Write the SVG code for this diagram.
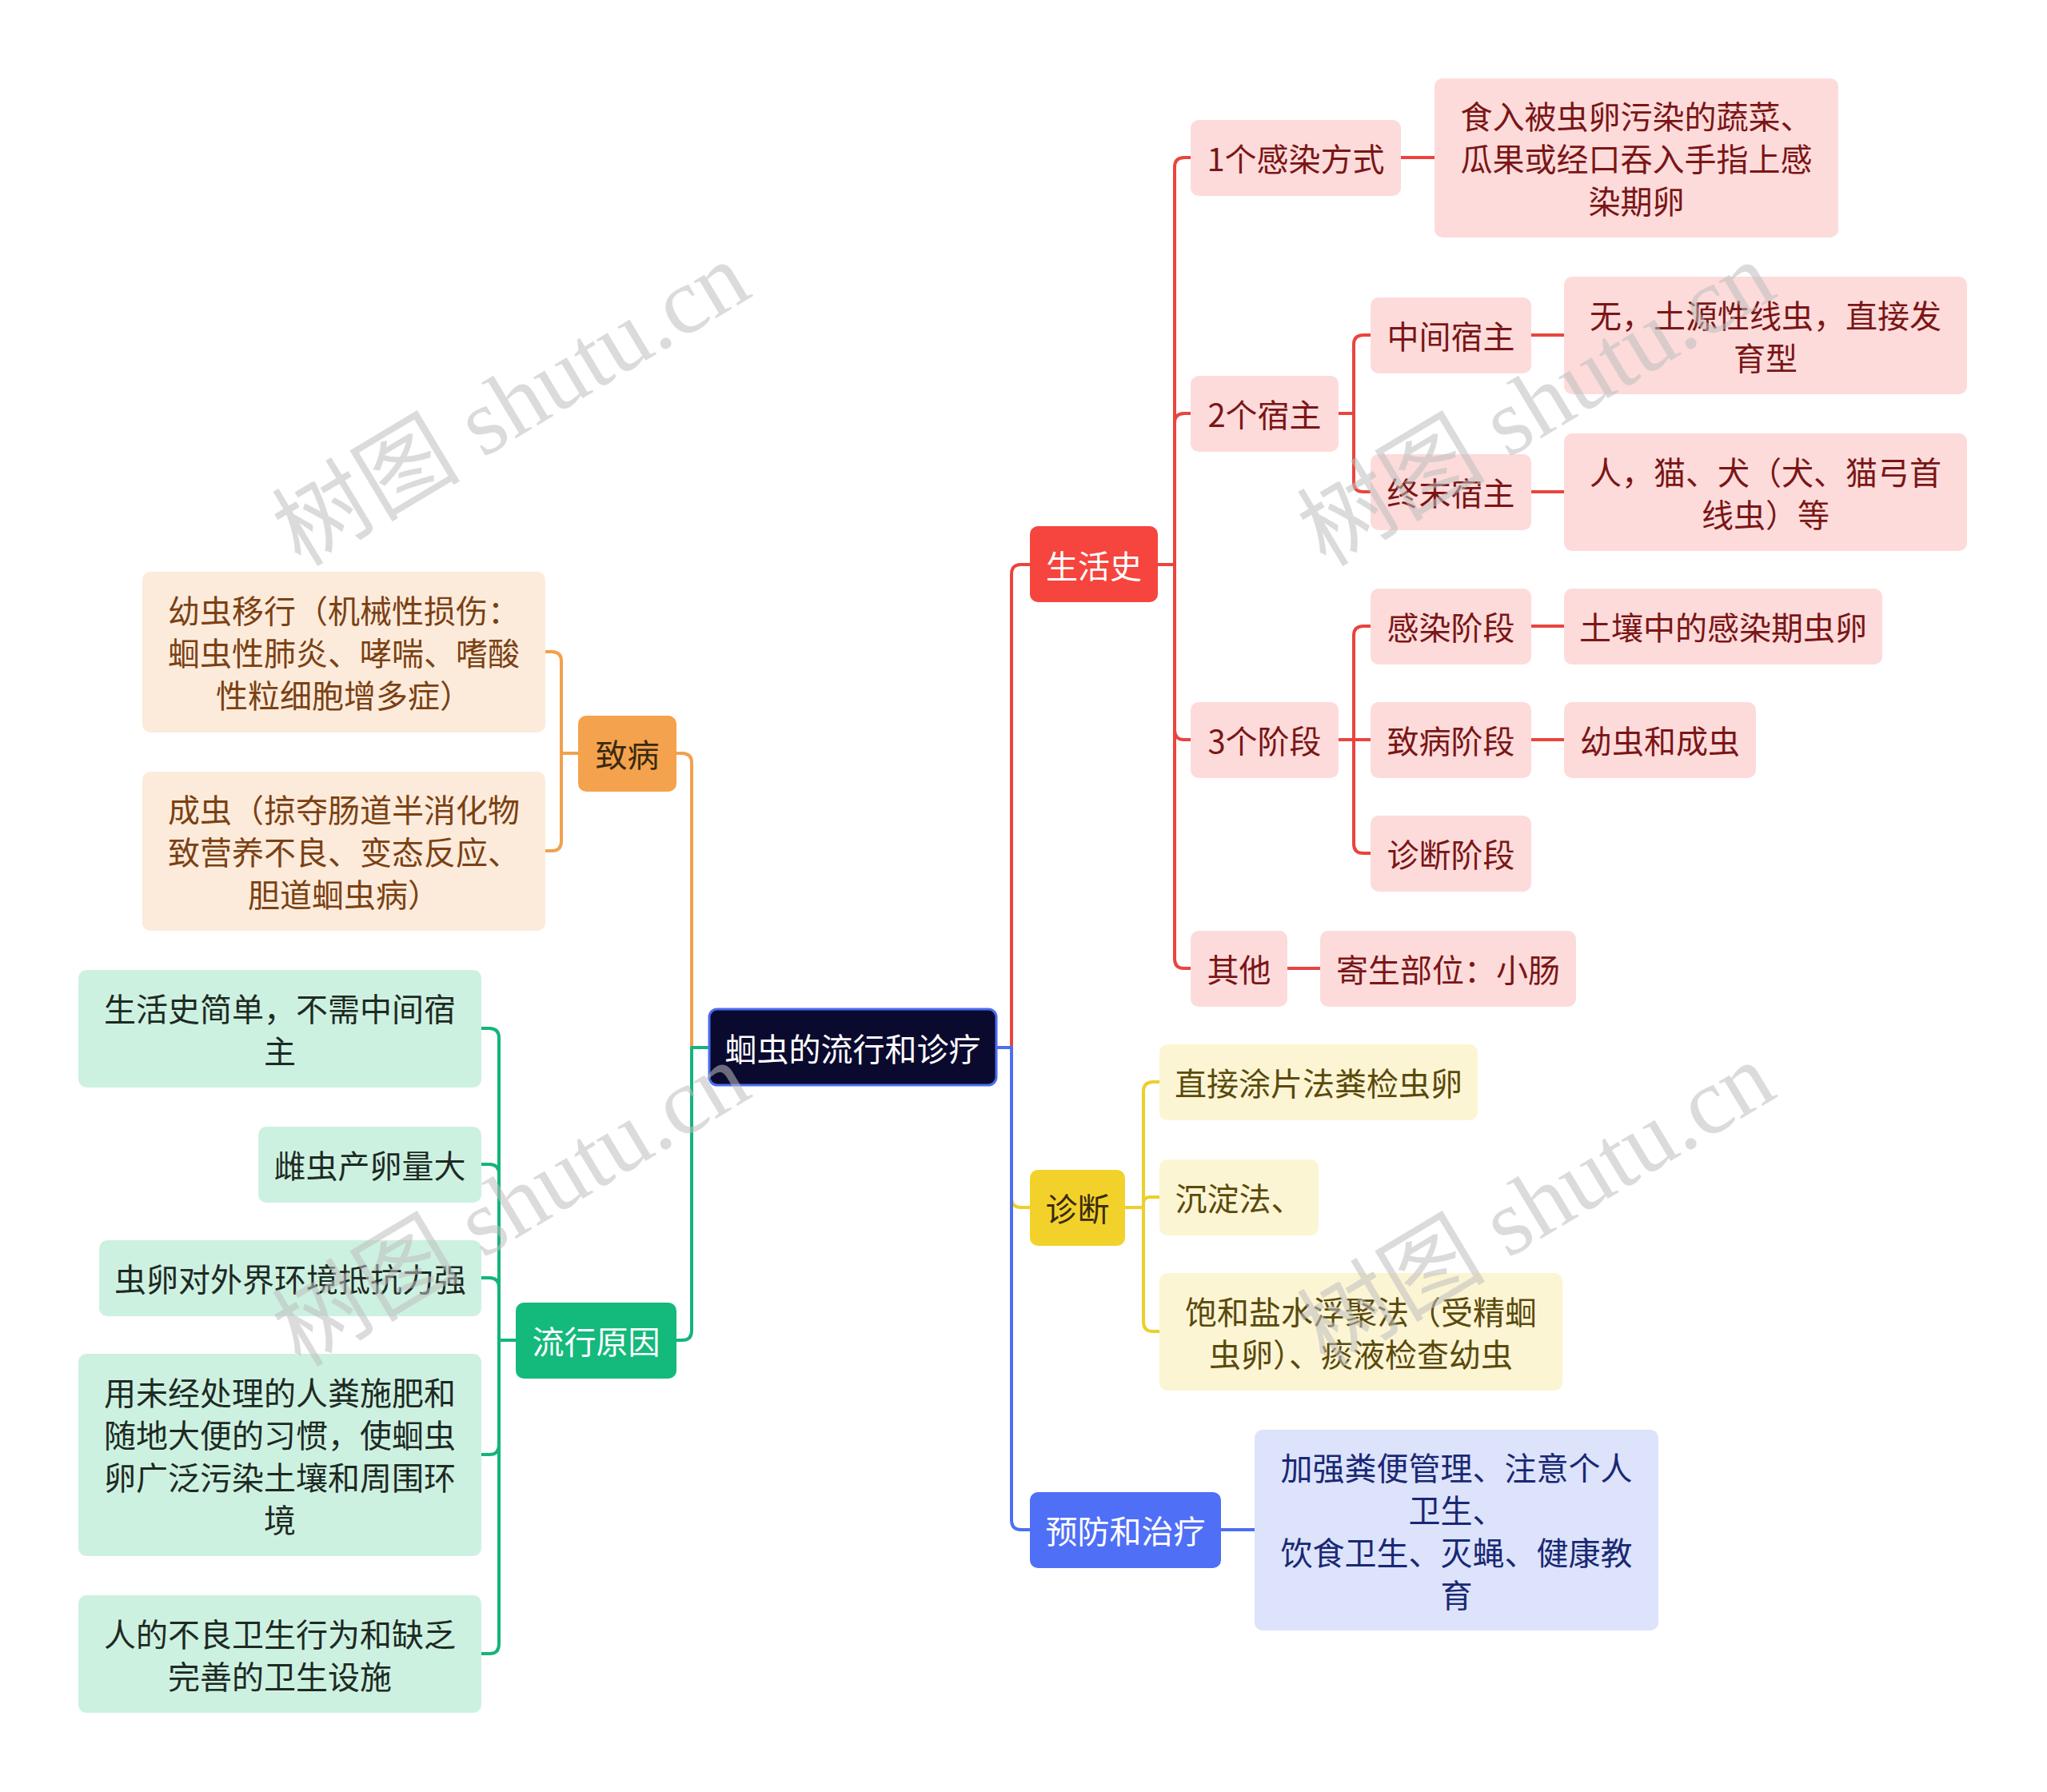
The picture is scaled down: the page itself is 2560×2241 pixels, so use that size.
<svg xmlns="http://www.w3.org/2000/svg" width="2560" height="2241" viewBox="0 0 2560 2241">
<style>
text{font-family:"Noto Sans CJK SC","Noto Sans",sans-serif;font-size:40px;text-anchor:middle;dominant-baseline:central}
.c{fill:none;stroke-width:4;stroke-linecap:round;stroke-linejoin:round}
.red{stroke:#e9453e}.ora{stroke:#f1a14e}.grn{stroke:#15b47a}.yel{stroke:#eccf2c}.blu{stroke:#4e6ef2}
.nr{fill:#f5453e}.no{fill:#f4a24d}.ng{fill:#14b97c}.ny{fill:#f2d22a}.nb{fill:#4f6ff6}
.lr{fill:#fddbdb}.lo{fill:#fcebdb}.lg{fill:#cdf1e1}.ly{fill:#fcf5d4}.lb{fill:#dce3fb}
.tw{fill:#ffffff}.tr{fill:#7a1616}.to{fill:#7b4113}.tg{fill:#1e2a24}.ty{fill:#5a4a0c}.tb{fill:#1a2873}.td{fill:#3a2a10}
.wm{font-family:"Liberation Serif","Noto Sans CJK SC",serif;font-size:118px;fill:#bdbdbd;fill-opacity:0.55;text-anchor:start;dominant-baseline:alphabetic}
</style>
<rect width="2560" height="2241" fill="#ffffff"/>
<g id="connectors">
<path class="c yel" d="M1246 1310 H1265 V1498 Q1265 1510 1277 1510 H1288"/>
<path class="c red" d="M1246 1310 H1265 V718 Q1265 706 1277 706 H1288"/>
<path class="c blu" d="M1246 1310 H1265 V1901 Q1265 1913 1277 1913 H1288"/>
<path class="c ora" d="M887 1310 H865 V954 Q865 942 853 942 H846"/>
<path class="c grn" d="M887 1310 H865 V1664 Q865 1676 853 1676 H846"/>
<path class="c red" d="M1448 706 H1469 V209 Q1469 197 1481 197 H1489"/>
<path class="c red" d="M1448 706 H1469 V529 Q1469 517 1481 517 H1489"/>
<path class="c red" d="M1448 706 H1469 V913 Q1469 925 1481 925 H1489"/>
<path class="c red" d="M1448 706 H1469 V1199 Q1469 1211 1481 1211 H1489"/>
<path class="c red" d="M1674 517 H1693 V431 Q1693 419 1705 419 H1714"/>
<path class="c red" d="M1674 517 H1693 V603 Q1693 615 1705 615 H1714"/>
<path class="c red" d="M1674 925 H1693 V795 Q1693 783 1705 783 H1714"/>
<path class="c red" d="M1674 925 H1714"/>
<path class="c red" d="M1674 925 H1693 V1055 Q1693 1067 1705 1067 H1714"/>
<path class="c red" d="M1752 197 H1794"/>
<path class="c red" d="M1915 419 H1956"/>
<path class="c red" d="M1915 615 H1956"/>
<path class="c red" d="M1915 783 H1956"/>
<path class="c red" d="M1915 925 H1956"/>
<path class="c red" d="M1610 1211 H1651"/>
<path class="c yel" d="M1407 1510 H1430 V1365 Q1430 1353 1442 1353 H1450"/>
<path class="c yel" d="M1407 1510 H1430 V1505 Q1430 1497 1438 1497 H1450"/>
<path class="c yel" d="M1407 1510 H1430 V1653 Q1430 1665 1442 1665 H1450"/>
<path class="c blu" d="M1527 1913 H1569"/>
<path class="c ora" d="M723 942 H702 V827 Q702 815 690 815 H682"/>
<path class="c ora" d="M723 942 H702 V1052 Q702 1064 690 1064 H682"/>
<path class="c grn" d="M645 1676 H624 V1298 Q624 1286 612 1286 H602"/>
<path class="c grn" d="M645 1676 H624 V1468 Q624 1456 612 1456 H602"/>
<path class="c grn" d="M645 1676 H624 V1610 Q624 1598 612 1598 H602"/>
<path class="c grn" d="M645 1676 H624 V1807 Q624 1819 612 1819 H602"/>
<path class="c grn" d="M645 1676 H624 V2056 Q624 2068 612 2068 H602"/>
</g>
<g id="root"><rect x="887" y="1262" width="359" height="95" rx="10" fill="#0a0a2f" stroke="#4a6cf0" stroke-width="3"/><text class="tw" x="1066.5" y="1310">蛔虫的流行和诊疗</text></g>
<g id="n-shenghuoshi"><rect class="nr" x="1288" y="658" width="160" height="95" rx="10"/><text class="tw" x="1368" y="706">生活史</text></g>
<g id="n-zhibing"><rect class="no" x="723" y="895" width="123" height="95" rx="10"/><text class="td" x="784.5" y="942">致病</text></g>
<g id="n-liuxing"><rect class="ng" x="645" y="1629" width="201" height="95" rx="10"/><text class="tw" x="745.5" y="1676">流行原因</text></g>
<g id="n-zhenduan"><rect class="ny" x="1288" y="1463" width="119" height="95" rx="10"/><text class="td" x="1347.5" y="1510">诊断</text></g>
<g id="n-yufang"><rect class="nb" x="1288" y="1866" width="239" height="95" rx="10"/><text class="tw" x="1407.5" y="1913">预防和治疗</text></g>
<g id="n-ganran"><rect class="lr" x="1489" y="150" width="263" height="95" rx="10"/><text class="tr" x="1620.5" y="197">1个感染方式</text></g>
<g id="n-ganran-d"><rect class="lr" x="1794" y="98" width="505" height="199" rx="10"/><text class="tr" x="2046.5" y="144">食入被虫卵污染的蔬菜、</text><text class="tr" x="2046.5" y="197">瓜果或经口吞入手指上感</text><text class="tr" x="2046.5" y="250">染期卵</text></g>
<g id="n-suzhu"><rect class="lr" x="1489" y="470" width="185" height="95" rx="10"/><text class="tr" x="1581.5" y="517">2个宿主</text></g>
<g id="n-zhongjian"><rect class="lr" x="1714" y="372" width="201" height="95" rx="10"/><text class="tr" x="1814.5" y="419">中间宿主</text></g>
<g id="n-zhongjian-d"><rect class="lr" x="1956" y="346" width="504" height="147" rx="10"/><text class="tr" x="2208" y="393">无，土源性线虫，直接发</text><text class="tr" x="2208" y="446">育型</text></g>
<g id="n-zhongmo"><rect class="lr" x="1714" y="568" width="201" height="95" rx="10"/><text class="tr" x="1814.5" y="615">终末宿主</text></g>
<g id="n-zhongmo-d"><rect class="lr" x="1956" y="542" width="504" height="147" rx="10"/><text class="tr" x="2208" y="589">人，猫、犬（犬、猫弓首</text><text class="tr" x="2208" y="642">线虫）等</text></g>
<g id="n-jieduan"><rect class="lr" x="1489" y="878" width="185" height="95" rx="10"/><text class="tr" x="1581.5" y="925">3个阶段</text></g>
<g id="n-gr-jd"><rect class="lr" x="1714" y="736" width="201" height="95" rx="10"/><text class="tr" x="1814.5" y="783">感染阶段</text></g>
<g id="n-gr-jd-d"><rect class="lr" x="1956" y="736" width="398" height="95" rx="10"/><text class="tr" x="2155" y="783">土壤中的感染期虫卵</text></g>
<g id="n-zb-jd"><rect class="lr" x="1714" y="878" width="201" height="95" rx="10"/><text class="tr" x="1814.5" y="925">致病阶段</text></g>
<g id="n-zb-jd-d"><rect class="lr" x="1956" y="878" width="240" height="95" rx="10"/><text class="tr" x="2076" y="925">幼虫和成虫</text></g>
<g id="n-zd-jd"><rect class="lr" x="1714" y="1020" width="201" height="95" rx="10"/><text class="tr" x="1814.5" y="1067">诊断阶段</text></g>
<g id="n-qita"><rect class="lr" x="1489" y="1164" width="121" height="95" rx="10"/><text class="tr" x="1549.5" y="1211">其他</text></g>
<g id="n-qita-d"><rect class="lr" x="1651" y="1164" width="320" height="95" rx="10"/><text class="tr" x="1811" y="1211">寄生部位：小肠</text></g>
<g id="n-zd1"><rect class="ly" x="1450" y="1306" width="398" height="95" rx="10"/><text class="ty" x="1649" y="1353">直接涂片法粪检虫卵</text></g>
<g id="n-zd2"><rect class="ly" x="1450" y="1450" width="199" height="95" rx="10"/><text class="ty" x="1549.5" y="1497">沉淀法、</text></g>
<g id="n-zd3"><rect class="ly" x="1450" y="1592" width="504" height="147" rx="10"/><text class="ty" x="1702" y="1639">饱和盐水浮聚法（受精蛔</text><text class="ty" x="1702" y="1692">虫卵）、痰液检查幼虫</text></g>
<g id="n-yf1"><rect class="lb" x="1569" y="1788" width="505" height="251" rx="10"/><text class="tb" x="1821.5" y="1833.5">加强粪便管理、注意个人</text><text class="tb" x="1821.5" y="1886.5">卫生、</text><text class="tb" x="1821.5" y="1939.5">饮食卫生、灭蝇、健康教</text><text class="tb" x="1821.5" y="1992.5">育</text></g>
<g id="n-zb1"><rect class="lo" x="178" y="715" width="504" height="201" rx="10"/><text class="to" x="430" y="762">幼虫移行（机械性损伤：</text><text class="to" x="430" y="815">蛔虫性肺炎、哮喘、嗜酸</text><text class="to" x="430" y="868">性粒细胞增多症）</text></g>
<g id="n-zb2"><rect class="lo" x="178" y="965" width="504" height="199" rx="10"/><text class="to" x="430" y="1011">成虫（掠夺肠道半消化物</text><text class="to" x="430" y="1064">致营养不良、变态反应、</text><text class="to" x="430" y="1117">胆道蛔虫病）</text></g>
<g id="n-lx1"><rect class="lg" x="98" y="1213" width="504" height="147" rx="10"/><text class="tg" x="350" y="1260">生活史简单，不需中间宿</text><text class="tg" x="350" y="1313">主</text></g>
<g id="n-lx2"><rect class="lg" x="323" y="1409" width="279" height="95" rx="10"/><text class="tg" x="462.5" y="1456">雌虫产卵量大</text></g>
<g id="n-lx3"><rect class="lg" x="124" y="1551" width="478" height="95" rx="10"/><text class="tg" x="363" y="1598">虫卵对外界环境抵抗力强</text></g>
<g id="n-lx4"><rect class="lg" x="98" y="1693" width="504" height="253" rx="10"/><text class="tg" x="350" y="1740">用未经处理的人粪施肥和</text><text class="tg" x="350" y="1793">随地大便的习惯，使蛔虫</text><text class="tg" x="350" y="1846">卵广泛污染土壤和周围环</text><text class="tg" x="350" y="1899">境</text></g>
<g id="n-lx5"><rect class="lg" x="98" y="1995" width="504" height="147" rx="10"/><text class="tg" x="350" y="2042">人的不良卫生行为和缺乏</text><text class="tg" x="350" y="2095">完善的卫生设施</text></g>
<g id="watermarks">
<text class="wm" transform="translate(376 710) rotate(-31)">树图 shutu.cn</text>
<text class="wm" transform="translate(1658 710) rotate(-31)">树图 shutu.cn</text>
<text class="wm" transform="translate(376 1711) rotate(-31)">树图 shutu.cn</text>
<text class="wm" transform="translate(1658 1711) rotate(-31)">树图 shutu.cn</text>
</g>
</svg>
